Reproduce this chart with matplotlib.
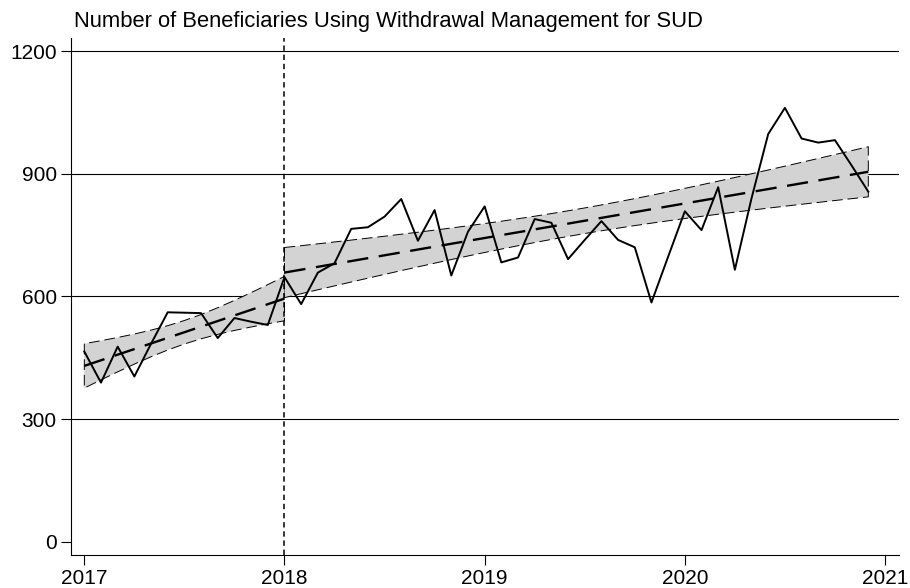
import numpy as np
import matplotlib
matplotlib.use("Agg")
import matplotlib.pyplot as plt

plt.rcParams['font.family'] = ['Liberation Sans', 'DejaVu Sans']

# Monthly beneficiaries, Jan 2017 - Dec 2020
values = [465, 389, 477, 404, 484, 561, 560, 559, 498, 547, 538, 530,
          647, 581, 658, 681, 765, 769, 795, 838, 736, 811, 651, 758,
          820, 683, 695, 789, 780, 691, 738, 784, 738, 720, 585, 697,
          808, 762, 867, 665, 840, 997, 1061, 986, 976, 982, 920, 856]
start_year = 2017
break_year = 2018
year_ticks = [2017, 2018, 2019, 2020, 2021]
y_ticks = [0, 300, 600, 900, 1200]
title = "Number of Beneficiaries Using Withdrawal Management for SUD"

# t quantiles (95%) for the two linear fits
t_pre = 2.201   # df = 11
t_post = 2.032  # df = 34

y = np.array(values, dtype=float)
t = start_year + np.arange(len(y)) / 12.0


def lfitci(x, yy, tq):
    # linear fit with CI of the mean prediction (like Stata lfitci)
    n = len(x)
    b, a = np.polyfit(x, yy, 1)
    fit = a + b * x
    s = np.sqrt(np.sum((yy - fit) ** 2) / (n - 2))
    se = s * np.sqrt(1.0 / n + (x - x.mean()) ** 2 / np.sum((x - x.mean()) ** 2))
    return fit, fit - tq * se, fit + tq * se


pre = t <= break_year + 1e-9
post = t >= break_year - 1e-9

fig = plt.figure(figsize=(9.1, 5.88), dpi=100)
ax = fig.add_axes([70.7 / 910, 1 - 554.7 / 588, (899 - 70.7) / 910, (554.7 - 38) / 588])

for mask, tq in [(pre, t_pre), (post, t_post)]:
    xs = t[mask]
    fit, lo, hi = lfitci(xs, y[mask], tq)
    ax.fill_between(xs, lo, hi, facecolor="#d3d3d3", edgecolor="black",
                    linewidth=0.7, linestyle=(0, (11, 5)), zorder=2)
    ax.plot(xs, fit, color="black", linewidth=1.7, dashes=(9, 4.5), zorder=3)

ax.plot(t, y, color="black", linewidth=1.4, zorder=4)
ax.axvline(break_year, color="black", linewidth=1.1, dashes=(3.5, 2.5), zorder=5)

for v in y_ticks[1:]:
    ax.axhline(v, color="black", linewidth=0.8, zorder=1)

ax.set_xlim(2016.932, 2021.07)
ax.set_ylim(-31.8, 1231.8)
ax.set_xticks(year_ticks)
ax.set_yticks(y_ticks)
ax.tick_params(axis="both", length=7, width=0.8, labelsize=15, pad=3)
for side in ["top", "right"]:
    ax.spines[side].set_visible(False)
for side in ["left", "bottom"]:
    ax.spines[side].set_linewidth(0.8)

fig.text(74 / 910, 1 - 21 / 588, title, fontsize=15.8, ha="left", va="center")

fig.savefig("out.png", dpi=100)
